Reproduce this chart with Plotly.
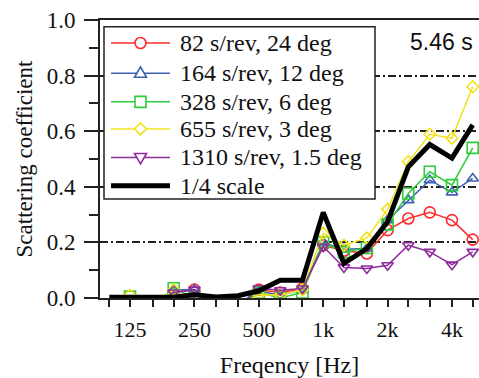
import plotly.graph_objects as go

# ---------------- data ----------------
freqs = [100, 125, 160, 200, 250, 315, 400, 500, 630, 800, 1000, 1250, 1600, 2000, 2500, 3150, 4000, 5000]
tick_labels = ["", "125", "", "", "250", "", "", "500", "", "", "1k", "", "", "2k", "", "", "4k", ""]

names = ["82 s/rev, 24 deg", "164 s/rev, 12 deg", "328 s/rev, 6 deg",
         "655 s/rev, 3 deg", "1310 s/rev, 1.5 deg", "1/4 scale"]

s82 = [None, -0.03, -0.03, 0.02, 0.03, -0.03, -0.03, 0.03, 0.02, 0.034, 0.19, 0.17, 0.16, 0.244, 0.286, 0.308, 0.28, 0.21]
s164 = [None, -0.03, -0.03, 0.03, 0.03, -0.03, -0.03, 0.025, 0.01, 0.03, 0.20, 0.175, 0.178, 0.28, 0.352, 0.424, 0.38, 0.43]
s328 = [None, 0.005, -0.03, 0.035, 0.0, -0.03, -0.03, 0.02, 0.0, 0.02, 0.20, 0.165, 0.18, 0.265, 0.376, 0.454, 0.406, 0.54]
s655 = [None, 0.01, -0.03, 0.03, -0.03, -0.03, -0.03, 0.012, 0.01, 0.03, 0.233, 0.19, 0.216, 0.319, 0.49, 0.589, 0.575, 0.76]
s1310 = [None, -0.03, -0.03, 0.02, 0.03, -0.03, -0.03, 0.035, 0.028, 0.034, 0.185, 0.11, 0.106, 0.118, 0.19, 0.166, 0.12, 0.166]
quarter = [0.003, 0.003, 0.003, 0.003, 0.012, 0.004, 0.008, 0.026, 0.064, 0.064, 0.308, 0.125, 0.178, 0.274, 0.472, 0.552, 0.503, 0.623]

series = [s82, s164, s328, s655, s1310]
colors = ["#ff2a2a", "#3d62b3", "#2ecc3a", "#f2e21c", "#8e2c9c", "#000000"]
symbols = ["circle-open", "triangle-up-open", "square-open", "diamond-open", "triangle-down-open"]
sizes = [11, 10, 11, 9, 10]

serif = "Liberation Serif, Tinos, DejaVu Serif, serif"
txt = "#111111"

fig = go.Figure()
for vals, c, sym, sz, nm in zip(series, colors, symbols, sizes, names):
    fig.add_trace(go.Scatter(x=freqs, y=vals, name=nm, mode="lines+markers",
                             line=dict(color=c, width=1.5),
                             marker=dict(symbol=sym, size=sz, color=c, line=dict(color=c, width=1.6)),
                             showlegend=False))
fig.add_trace(go.Scatter(x=freqs, y=quarter, name=names[5], mode="lines",
                         line=dict(color="black", width=5), showlegend=False))

# ---------------- geometry helpers (pixel -> paper) ----------------
L, R, T, B = 100, 479, 20.3, 297.8
def px(x):
    return (x - L) / (R - L)
def py(y):
    return (B - y) / (B - T)

shapes = []
annotations = []
# legend box
shapes.append(dict(type="rect", xref="paper", yref="paper", layer="above",
                   x0=px(104), x1=px(375), y0=py(199), y1=py(27),
                   fillcolor="white", line=dict(color="#222", width=1.5)))
rows = [43.3, 73.5, 102, 129, 157.5, 185.7]
for i, (nm, c) in enumerate(zip(names, colors)):
    yy = py(rows[i])
    w = 5 if i == 5 else 1.5
    shapes.append(dict(type="line", xref="paper", yref="paper", layer="above",
                       x0=px(111), x1=px(170), y0=yy, y1=yy, line=dict(color=c, width=w)))
    annotations.append(dict(x=px(178), y=yy, xref="paper", yref="paper", text=nm,
                            showarrow=False, xanchor="left", yanchor="middle",
                            font=dict(family=serif, size=24, color=txt)))
def path_from(pts):
    return "M " + " L ".join(f"{px(x):.5f},{py(y):.5f}" for x, y in pts) + " Z"
mx = 140.5
r = 5.5
shapes.append(dict(type="circle", xref="paper", yref="paper", layer="above",
                   x0=px(mx - r), x1=px(mx + r), y0=py(rows[0] + r), y1=py(rows[0] - r),
                   fillcolor="white", line=dict(color=colors[0], width=1.6)))
yc = rows[1]
shapes.append(dict(type="path", xref="paper", yref="paper", layer="above",
                   path=path_from([(mx - 6, yc + 4), (mx + 6, yc + 4), (mx, yc - 6.5)]),
                   fillcolor="white", line=dict(color=colors[1], width=1.6)))
yc = rows[2]
shapes.append(dict(type="rect", xref="paper", yref="paper", layer="above",
                   x0=px(mx - 5.5), x1=px(mx + 5.5), y0=py(yc + 5.5), y1=py(yc - 5.5),
                   fillcolor="white", line=dict(color=colors[2], width=1.6)))
yc = rows[3]
shapes.append(dict(type="path", xref="paper", yref="paper", layer="above",
                   path=path_from([(mx - 6, yc), (mx, yc - 6), (mx + 6, yc), (mx, yc + 6)]),
                   fillcolor="white", line=dict(color=colors[3], width=1.6)))
yc = rows[4]
shapes.append(dict(type="path", xref="paper", yref="paper", layer="above",
                   path=path_from([(mx - 6, yc - 4), (mx + 6, yc - 4), (mx, yc + 6.5)]),
                   fillcolor="white", line=dict(color=colors[4], width=1.6)))

annotations.append(dict(x=px(441), y=py(42), xref="paper", yref="paper", text="5.46 s",
                        showarrow=False, xanchor="center", yanchor="middle",
                        font=dict(family="Liberation Sans, Arial, sans-serif", size=23, color=txt)))

fig.update_layout(
    width=479, height=378,
    margin=dict(l=100, r=0, t=20, b=80),
    paper_bgcolor="white", plot_bgcolor="white",
    shapes=shapes, annotations=annotations,
    showlegend=False,
    font=dict(family=serif),
    xaxis=dict(type="log", range=[1.9565, 3.7284], tickvals=freqs, ticktext=tick_labels,
               ticks="outside", ticklen=7, tickwidth=1.5, tickcolor="#222",
               showline=True, linecolor="#222", linewidth=1.8, mirror=True,
               showgrid=False, zeroline=False, ticklabelstandoff=4,
               tickfont=dict(family=serif, size=22, color=txt),
               title=dict(text="Freqency [Hz]", standoff=16,
                          font=dict(family=serif, size=24, color=txt))),
    yaxis=dict(range=[0, 1], tickvals=[0, 0.2, 0.4, 0.6, 0.8, 1.0],
               ticktext=["0.0", "0.2", "0.4", "0.6", "0.8", "1.0"],
               ticks="outside", ticklen=14, tickwidth=1.5, tickcolor="#222",
               minor=dict(tickvals=[0.1, 0.3, 0.5, 0.7, 0.9], ticks="outside", ticklen=9,
                          tickwidth=1.5, tickcolor="#222", showgrid=False),
               showline=True, linecolor="#222", linewidth=1.8,
               showgrid=True, gridcolor="#222", gridwidth=1.5, griddash="8px,3px,2px,3px",
               zeroline=False, ticklabelstandoff=4,
               tickfont=dict(family=serif, size=23, color=txt),
               title=dict(text="Scattering coefficient", standoff=8,
                          font=dict(family=serif, size=23, color=txt))),
)

fig.write_html("out.html")
